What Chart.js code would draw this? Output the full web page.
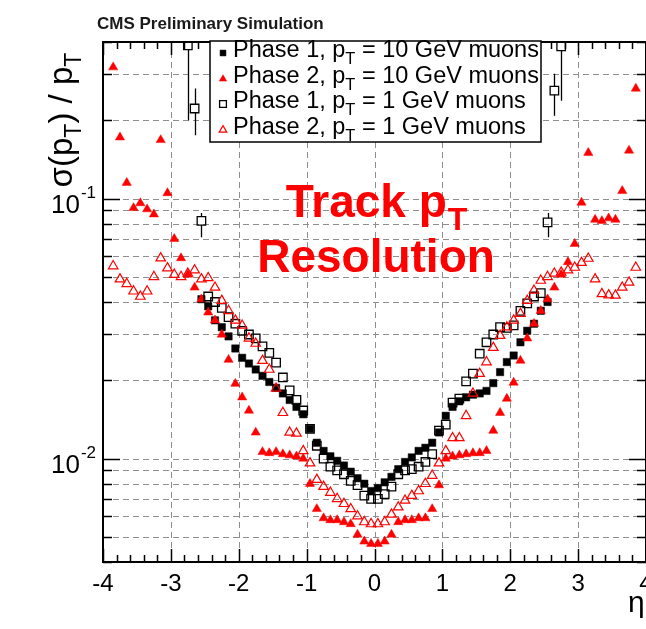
<!DOCTYPE html>
<html>
<head>
<meta charset="utf-8">
<script src="https://cdn.jsdelivr.net/npm/chart.js@4.4.1/dist/chart.umd.min.js"></script>
<style>
  html, body { margin: 0; padding: 0; background: #fff; }
</style>
</head>
<body>
<canvas id="c" width="646" height="629"></canvas>
<script>
// eta bin centres
var etaPhase2 = [-3.85, -3.75, -3.65, -3.55, -3.45, -3.35, -3.25, -3.15, -3.05, -2.95,
  -2.85, -2.75, -2.65, -2.55, -2.45, -2.35, -2.25, -2.15, -2.05, -1.95,
  -1.85, -1.75, -1.65, -1.55, -1.45, -1.35, -1.25, -1.15, -1.05, -0.95,
  -0.85, -0.75, -0.65, -0.55, -0.45, -0.35, -0.25, -0.15, -0.05,
  0.05, 0.15, 0.25, 0.35, 0.45, 0.55, 0.65, 0.75, 0.85, 0.95,
  1.05, 1.15, 1.25, 1.35, 1.45, 1.55, 1.65, 1.75, 1.85, 1.95,
  2.05, 2.15, 2.25, 2.35, 2.45, 2.55, 2.65, 2.75, 2.85, 2.95,
  3.05, 3.15, 3.25, 3.35, 3.45, 3.55, 3.65, 3.75, 3.85];

var etaPhase1 = [-2.55, -2.45, -2.35, -2.25, -2.15, -2.05, -1.95, -1.85, -1.75, -1.65,
  -1.55, -1.45, -1.35, -1.25, -1.15, -1.05, -0.95, -0.85, -0.75, -0.65,
  -0.55, -0.45, -0.35, -0.25, -0.15, -0.05,
  0.05, 0.15, 0.25, 0.35, 0.45, 0.55, 0.65, 0.75, 0.85, 0.95,
  1.05, 1.15, 1.25, 1.35, 1.45, 1.55, 1.65, 1.75, 1.85, 1.95,
  2.05, 2.15, 2.25, 2.35, 2.45, 2.55];

var etaPhase1Low = [-2.45, -2.35, -2.25, -2.15, -2.05, -1.95, -1.85, -1.75, -1.65,
  -1.55, -1.45, -1.35, -1.25, -1.15, -1.05, -0.95, -0.85, -0.75, -0.65,
  -0.55, -0.45, -0.35, -0.25, -0.15, -0.05,
  0.05, 0.15, 0.25, 0.35, 0.45, 0.55, 0.65, 0.75, 0.85, 0.95,
  1.05, 1.15, 1.25, 1.35, 1.45, 1.55, 1.65, 1.75, 1.85, 1.95,
  2.05, 2.15, 2.25, 2.35, 2.45];

// sigma(pT)/pT
var phase1Pt10 = [0.041, 0.0385, 0.034, 0.032, 0.0295, 0.0265, 0.0244, 0.0232, 0.0220, 0.0208,
  0.0197, 0.0187, 0.0178, 0.0168, 0.0158, 0.0148, 0.0130, 0.0115, 0.0107, 0.0102,
  0.0098, 0.0094, 0.0089, 0.0084, 0.0080, 0.0075,
  0.0077, 0.0081, 0.0085, 0.0091, 0.0097, 0.0101, 0.0107, 0.0110, 0.0115, 0.0126,
  0.0146, 0.0158, 0.0166, 0.0172, 0.0176, 0.0178, 0.0182, 0.0195, 0.0215, 0.0235,
  0.0249, 0.0280, 0.0310, 0.0330, 0.0370, 0.0400];

var phase2Pt10 = [0.32, 0.172, 0.115, 0.092, 0.096, 0.091, 0.087, 0.168, 0.105, 0.070,
  0.059, 0.051, 0.0455, 0.041, 0.0365, 0.034, 0.030, 0.024, 0.0194, 0.0172,
  0.0153, 0.0126, 0.0106, 0.0105, 0.0106, 0.0104, 0.0103, 0.0102, 0.0100, 0.0080,
  0.0064, 0.0059, 0.0058, 0.0058, 0.0057, 0.0056, 0.0051, 0.0048, 0.0047,
  0.0047, 0.0048, 0.0051, 0.0057, 0.0058, 0.0058, 0.0059, 0.0059, 0.0064, 0.0079,
  0.0100, 0.0102, 0.0103, 0.0104, 0.0105, 0.0105, 0.0107, 0.0128, 0.0150, 0.0170,
  0.0196, 0.0238, 0.029, 0.033, 0.037, 0.041, 0.0455, 0.051, 0.057, 0.067,
  0.0965, 0.150, 0.083, 0.082, 0.084, 0.083, 0.107, 0.153, 0.265];

var phase1Pt1 = [0.042, 0.040, 0.038, 0.035, 0.033, 0.031, 0.030, 0.029, 0.027,
  0.0255, 0.0234, 0.0205, 0.0183, 0.0168, 0.0153, 0.0130, 0.0112, 0.0100, 0.0093,
  0.0090, 0.0087, 0.0082, 0.0079, 0.0072, 0.0070,
  0.0070, 0.0073, 0.0078, 0.0087, 0.0090, 0.0091, 0.0093, 0.0097, 0.0104, 0.0128,
  0.0135, 0.0164, 0.0170, 0.0198, 0.0212, 0.0253, 0.0280, 0.0300, 0.0320, 0.0318,
  0.0325, 0.0370, 0.0395, 0.0420, 0.0433];

// Phase 1, 1 GeV points at the edge of acceptance, with error bars
var tailEta = [-2.75, -2.65, -2.55, 2.55, 2.65, 2.75];
var tailVal = [0.388, 0.222, 0.082, 0.081, 0.26, 0.385];
var tailLo = [0.20, 0.175, 0.071, 0.071, 0.208, 0.238];
var tailHi = [0.45, 0.265, 0.088, 0.088, 0.302, 0.45];

var phase2Pt1 = [0.055, 0.049, 0.047, 0.044, 0.042, 0.044, 0.050, 0.059, 0.054, 0.051,
  0.050, 0.0515, 0.053, 0.049, 0.0495, 0.0455, 0.0405, 0.037, 0.034, 0.0325,
  0.029, 0.0277, 0.0238, 0.022, 0.0186, 0.0150, 0.0126, 0.0125, 0.0107, 0.0096,
  0.0083, 0.0078, 0.0074, 0.0070, 0.0067, 0.0064, 0.0060, 0.0057, 0.0056,
  0.0056, 0.0057, 0.0061, 0.0065, 0.0069, 0.0072, 0.0075, 0.0080, 0.0086, 0.0096,
  0.0107, 0.0120, 0.0120, 0.0146, 0.0178, 0.0212, 0.0235, 0.0267, 0.0297, 0.032,
  0.034, 0.0361, 0.0405, 0.0443, 0.0484, 0.050, 0.0515, 0.052, 0.053, 0.0543,
  0.0567, 0.0588, 0.049, 0.043, 0.0425, 0.0424, 0.0455, 0.0476, 0.0543];

var xTicks = [-4, -3, -2, -1, 0, 1, 2, 3, 4];
var yTicks = [0.004, 0.005, 0.006, 0.007, 0.008, 0.009, 0.01, 0.02, 0.03, 0.04, 0.05,
  0.06, 0.07, 0.08, 0.09, 0.1, 0.2, 0.3, 0.4];
var yMajor = [0.01, 0.1];
var yMajorExp = ['-2', '-1'];

var FONT = '"Liberation Sans", Arial, Helvetica, sans-serif';

function pairs(xs, ys) {
  return xs.map(function (x, i) { return { x: x, y: ys[i] }; });
}

// split "p_T" style labels into normal / subscript runs
function runs(label) {
  var out = [];
  label.split('_').forEach(function (piece, i) {
    if (i === 0) { out.push([piece, false]); return; }
    out.push([piece.charAt(0), true]);
    if (piece.length > 1) out.push([piece.slice(1), false]);
  });
  return out;
}

function runWidth(ctx, parts, size, weight) {
  var w = 0;
  parts.forEach(function (p) {
    ctx.font = weight + ' ' + (p[1] ? size * 0.7 : size) + 'px ' + FONT;
    w += ctx.measureText(p[0]).width;
  });
  return w;
}

function drawRuns(ctx, parts, x, y, size, weight) {
  var cx = x;
  parts.forEach(function (p) {
    ctx.font = weight + ' ' + (p[1] ? size * 0.7 : size) + 'px ' + FONT;
    ctx.fillText(p[0], cx, y + (p[1] ? size * 0.28 : 0));
    cx += ctx.measureText(p[0]).width;
  });
}

var rootFrame = {
  id: 'rootFrame',
  beforeDatasetsDraw: function (chart) {
    var ctx = chart.ctx, a = chart.chartArea;
    var xs = chart.scales.x, ys = chart.scales.y;
    ctx.save();
    ctx.strokeStyle = '#8e8e8e';
    ctx.lineWidth = 1;
    ctx.setLineDash([6, 4]);
    ys.ticks.forEach(function (t) {
      var py = Math.round(ys.getPixelForValue(t.value)) + 0.5;
      ctx.beginPath(); ctx.moveTo(a.left, py); ctx.lineTo(a.right, py); ctx.stroke();
    });
    xs.ticks.forEach(function (t) {
      var px = Math.round(xs.getPixelForValue(t.value)) + 0.5;
      ctx.beginPath(); ctx.moveTo(px, a.top); ctx.lineTo(px, a.bottom); ctx.stroke();
    });
    ctx.setLineDash([]);

    // error bars of the edge points
    ctx.beginPath(); ctx.rect(a.left, a.top, a.right - a.left, a.bottom - a.top); ctx.clip();
    ctx.strokeStyle = '#000';
    ctx.lineWidth = 1.3;
    tailEta.forEach(function (e, i) {
      var px = Math.round(xs.getPixelForValue(e)) + 0.5;
      var py = ys.getPixelForValue(tailVal[i]);
      var hi = ys.getPixelForValue(tailHi[i]);
      var lo = ys.getPixelForValue(tailLo[i]);
      ctx.beginPath();
      ctx.moveTo(px, hi); ctx.lineTo(px, py - 4);
      ctx.moveTo(px, py + 4); ctx.lineTo(px, lo);
      ctx.stroke();
    });
    ctx.restore();
  },
  afterDatasetsDraw: function (chart) {
    var ctx = chart.ctx, a = chart.chartArea;
    var xs = chart.scales.x, ys = chart.scales.y;
    ctx.save();
    ctx.strokeStyle = '#000';
    ctx.lineWidth = 1.5;
    // minor x ticks every 0.2
    for (var v = xs.min; v <= xs.max + 1e-9; v += 0.2) {
      var px = Math.round(xs.getPixelForValue(v)) + 0.5;
      var major = Math.abs(v - Math.round(v)) < 1e-6;
      var len = major ? 13 : 7;
      ctx.beginPath();
      ctx.moveTo(px, a.bottom); ctx.lineTo(px, a.bottom - len);
      ctx.moveTo(px, a.top); ctx.lineTo(px, a.top + len);
      ctx.stroke();
    }
    ys.ticks.forEach(function (t) {
      var py = Math.round(ys.getPixelForValue(t.value)) + 0.5;
      var major = yMajor.indexOf(t.value) >= 0;
      var len = major ? 17 : 9;
      ctx.beginPath();
      ctx.moveTo(a.left, py); ctx.lineTo(a.left + len, py);
      ctx.moveTo(a.right, py); ctx.lineTo(a.right - len, py);
      ctx.stroke();
    });
    ctx.lineWidth = 2;
    ctx.strokeRect(a.left, a.top, a.right - a.left, a.bottom - a.top);

    // y labels: 10 with a raised exponent
    ctx.fillStyle = '#000';
    ctx.textBaseline = 'alphabetic';
    ctx.textAlign = 'right';
    yMajor.forEach(function (v, i) {
      var py = ys.getPixelForValue(v);
      ctx.font = '17px ' + FONT;
      var we = ctx.measureText(yMajorExp[i]).width;
      ctx.fillText(yMajorExp[i], a.left - 7, py - 1);
      ctx.font = '26px ' + FONT;
      ctx.fillText('10', a.left - 8 - we, py + 14);
    });
    ctx.restore();
  },
  afterDraw: function (chart) {
    var ctx = chart.ctx;
    ctx.save();
    ctx.textBaseline = 'alphabetic';
    ctx.textAlign = 'left';

    // header
    ctx.fillStyle = '#1a1a1a';
    ctx.font = 'bold 17px ' + FONT;
    ctx.fillText('CMS Preliminary Simulation', 97, 29);

    // axis titles
    ctx.fillStyle = '#000';
    var yTitle = runs('\u03C3(p_T) / p_T');
    var tw = runWidth(ctx, yTitle, 33, 'normal');
    ctx.save();
    ctx.translate(72, 120 + tw / 2);
    ctx.rotate(-Math.PI / 2);
    drawRuns(ctx, yTitle, 0, 0, 33, 'normal');
    ctx.restore();
    ctx.font = '30px ' + FONT;
    ctx.fillText('\u03B7', 628, 612);

    // red annotation
    ctx.fillStyle = '#ff0000';
    ctx.font = 'bold 46px ' + FONT;
    var w1 = ctx.measureText('Track p').width;
    ctx.font = 'bold 32px ' + FONT;
    var w2 = ctx.measureText('T').width;
    var x1 = 376 - (w1 + w2) / 2;
    ctx.font = 'bold 46px ' + FONT;
    ctx.fillText('Track p', x1, 217);
    ctx.font = 'bold 32px ' + FONT;
    ctx.fillText('T', x1 + w1 + 1, 230);
    ctx.font = 'bold 46px ' + FONT;
    ctx.textAlign = 'center';
    ctx.fillText('Resolution', 376, 272);
    ctx.textAlign = 'left';

    // legend box
    ctx.fillStyle = '#fff';
    ctx.fillRect(210, 41, 331, 101);
    ctx.strokeStyle = '#000';
    ctx.lineWidth = 1.5;
    ctx.strokeRect(210, 41, 331, 101);
    var rows = [53, 79, 104, 130];
    chart.data.datasets.forEach(function (ds, i) {
      ctx.fillStyle = ds.backgroundColor;
      ctx.strokeStyle = ds.borderColor;
      ctx.lineWidth = ds.borderWidth;
      Chart.helpers.drawPoint(ctx, {
        pointStyle: ds.pointStyle, radius: ds.pointRadius * 0.8,
        rotation: 0, borderWidth: ds.borderWidth
      }, 223, rows[i]);
      ctx.fillStyle = '#000';
      drawRuns(ctx, runs(ds.label), 233, rows[i] + 4, 23.5, 'normal');
    });
    ctx.restore();
  }
};

new Chart(document.getElementById('c'), {
  type: 'scatter',
  data: {
    datasets: [{
      label: 'Phase 1, p_T = 10 GeV muons',
      data: pairs(etaPhase1, phase1Pt10),
      pointStyle: 'rect', pointRadius: 5.2,
      backgroundColor: '#000', borderColor: '#000', borderWidth: 0.5,
      order: 3
    }, {
      label: 'Phase 2, p_T = 10 GeV muons',
      data: pairs(etaPhase2, phase2Pt10),
      pointStyle: 'triangle', pointRadius: 5.3,
      backgroundColor: '#ff0000', borderColor: '#ff0000', borderWidth: 0.5,
      order: 2
    }, {
      label: 'Phase 1, p_T = 1 GeV muons',
      data: pairs(etaPhase1Low.concat(tailEta), phase1Pt1.concat(tailVal)),
      pointStyle: 'rect', pointRadius: 6,
      backgroundColor: 'rgba(0,0,0,0)', borderColor: '#000', borderWidth: 1.3,
      order: 1
    }, {
      label: 'Phase 2, p_T = 1 GeV muons',
      data: pairs(etaPhase2, phase2Pt1),
      pointStyle: 'triangle', pointRadius: 5.5,
      backgroundColor: 'rgba(0,0,0,0)', borderColor: '#ff0000', borderWidth: 1.2,
      order: 0
    }]
  },
  options: {
    responsive: false,
    animation: false,
    events: [],
    layout: { padding: { top: 42, left: 0, right: 0, bottom: 0 }, autoPadding: false },
    plugins: { legend: { display: false }, tooltip: { enabled: false } },
    scales: {
      x: {
        type: 'linear', min: -4, max: 4,
        grid: { display: false, drawTicks: false },
        border: { display: false },
        afterBuildTicks: function (s) { s.ticks = xTicks.map(function (v) { return { value: v }; }); },
        afterFit: function (s) { s.height = 67; s.paddingLeft = 0; s.paddingRight = 0; },
        ticks: {
          padding: 8, color: '#000', maxRotation: 0, autoSkip: false,
          font: { family: FONT, size: 24 },
          callback: function (v) { return String(v); }
        }
      },
      y: {
        type: 'logarithmic', min: 0.004, max: 0.4,
        grid: { display: false, drawTicks: false },
        border: { display: false },
        afterBuildTicks: function (s) { s.ticks = yTicks.map(function (v) { return { value: v }; }); },
        afterFit: function (s) { s.width = 103; s.paddingTop = 0; s.paddingBottom = 0; },
        ticks: { display: false }
      }
    }
  },
  plugins: [rootFrame]
});
</script>
</body>
</html>
